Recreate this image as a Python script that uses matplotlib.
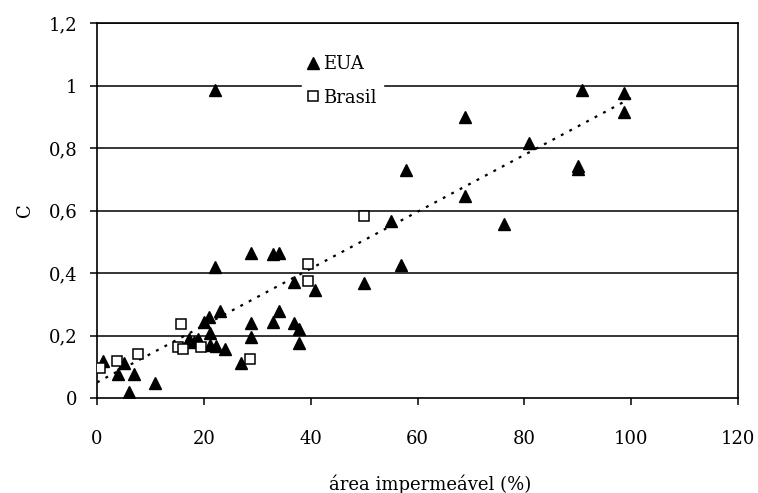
import numpy as np
import matplotlib
matplotlib.use("Agg")
import matplotlib.pyplot as plt
from matplotlib.lines import Line2D

# ---- data ----
eua_x = [1.1, 4.0, 5.0, 6.9, 6.0, 10.8, 17.3, 18.1, 18.9, 20.0, 21.0, 21.1, 21.2, 22.2,
         23.0, 24.0, 27.0, 22.0, 22.0, 28.9, 28.9, 28.9, 33.0, 34.0, 34.0, 33.0,
         36.9, 36.9, 37.8, 37.8, 40.9, 50.0, 55.0, 57.0, 57.9, 68.8, 68.8, 76.1,
         80.9, 90.0, 90.0, 90.8, 98.7, 98.7]
eua_y = [0.118, 0.078, 0.111, 0.078, 0.019, 0.048, 0.188, 0.180, 0.190, 0.242, 0.258, 0.209, 0.170, 0.168,
         0.280, 0.157, 0.112, 0.420, 0.985, 0.464, 0.241, 0.195, 0.461, 0.463, 0.279, 0.244,
         0.372, 0.239, 0.220, 0.177, 0.346, 0.369, 0.566, 0.426, 0.729, 0.898, 0.646, 0.557,
         0.817, 0.742, 0.732, 0.986, 0.977, 0.916]

brasil_x = [0.6, 3.7, 7.6, 15.1, 15.8, 16.1, 19.4, 28.7, 39.5, 39.5, 50.0]
brasil_y = [0.095, 0.118, 0.141, 0.163, 0.237, 0.156, 0.162, 0.124, 0.428, 0.375, 0.583]

# linear trend line
trend_slope = 0.0091
trend_intercept = 0.050
trend_range = [0, 100]

x_ticks = [0, 20, 40, 60, 80, 100, 120]
y_ticks = [0, 0.2, 0.4, 0.6, 0.8, 1.0, 1.2]
y_tick_labels = ["0", "0,2", "0,4", "0,6", "0,8", "1", "1,2"]

series_labels = ["EUA", "Brasil"]
x_label = "área impermeável (%)"
y_label = "C"

# ---- plot ----
plt.rcParams['font.family'] = ['DejaVu Serif']
fig = plt.figure(figsize=(7.58, 4.93), dpi=100)
ax = fig.add_axes([0.128, 0.1927, 0.8456, 0.7606])

ax.set_xlim(0, 120)
ax.set_ylim(0, 1.2)

for yv in y_ticks[1:]:
    ax.axhline(yv, color='black', lw=1.1, zorder=1)

tx = np.array(trend_range, dtype=float)
ax.plot(tx, trend_slope * tx + trend_intercept, color='black', lw=1.6,
        linestyle=(0, (1.3, 3.0)), zorder=2)

ax.plot(eua_x, eua_y, linestyle='none', marker='^', ms=8.5, color='black',
        zorder=3)
ax.plot(brasil_x, brasil_y, linestyle='none', marker='s', ms=6.5,
        markerfacecolor='white', markeredgecolor='black', mew=1.1, zorder=4)

ax.set_xticks(x_ticks)
ax.set_xticklabels([str(v) for v in x_ticks])
ax.set_yticks(y_ticks)
ax.set_yticklabels(y_tick_labels)
ax.tick_params(axis='both', direction='out', length=5, width=1.1,
               labelsize=13)
ax.tick_params(axis='x', pad=18)
ax.tick_params(axis='y', pad=9)
for sp in ax.spines.values():
    sp.set_linewidth(1.2)
    sp.set_color('black')

ax.set_xlabel(x_label, fontsize=13)
ax.xaxis.set_label_coords(0.52, -0.205)
ax.set_ylabel(y_label, fontsize=13, labelpad=11)

handles = [Line2D([], [], linestyle='none', marker='^', ms=8, color='black'),
           Line2D([], [], linestyle='none', marker='s', ms=6.5,
                  markerfacecolor='white', markeredgecolor='black', mew=1.1)]
leg = ax.legend(handles, series_labels, loc='upper left',
                bbox_to_anchor=(0.305, 0.955), frameon=True, fontsize=13,
                handlelength=0.6, handletextpad=0.25, labelspacing=0.85,
                borderpad=0.35, fancybox=False)
leg.get_frame().set_facecolor('white')
leg.get_frame().set_edgecolor('white')
leg.get_frame().set_alpha(1)
leg.set_zorder(5)

fig.savefig("out.png", dpi=100)
